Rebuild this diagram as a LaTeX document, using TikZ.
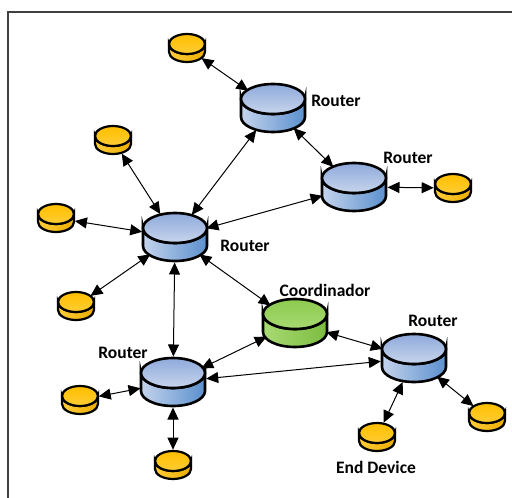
\documentclass[tikz,border=0pt]{standalone}
\usepackage{fontspec}
\setmainfont{Carlito}
\usetikzlibrary{arrows.meta,shapes.geometric}

% router (blue)
\definecolor{rtTopA}{HTML}{8EAADB}
\definecolor{rtTopB}{HTML}{C8D5EC}
\definecolor{rtSideA}{HTML}{C4D3EC}
\definecolor{rtSideB}{HTML}{5B90CE}
% coordinator (green)
\definecolor{coTopA}{HTML}{8CCB4E}
\definecolor{coTopB}{HTML}{A8DA72}
\definecolor{coSideA}{HTML}{A9DB74}
\definecolor{coSideB}{HTML}{7CBC40}
% end device (yellow)
\definecolor{edTopA}{HTML}{FFBF00}
\definecolor{edTopB}{HTML}{FFCC33}
\definecolor{edSideA}{HTML}{FFCD3A}
\definecolor{edSideB}{HTML}{EDAD00}

\tikzset{
  hub/.style={ellipse, inner sep=0pt, draw=none},
  link/.style={{Triangle[length=12pt,width=11pt]}-{Triangle[length=12pt,width=11pt]}, line width=1pt},
  lbl/.style={font=\bfseries\fontsize{17.5}{20}\selectfont, inner sep=0pt},
}

% #1 name, #2 cx, #3 cy (top face centre), #4 rx, #5 ry, #6 depth, #7 colour prefix, #8 line width
\newcommand\drum[8]{%
  \begin{scope}[shift={(#2,#3)}]
    \path[draw, line width=#8pt, left color=#7SideA, right color=#7SideB]
      (-#4,0) -- (-#4,#6)
      arc[start angle=180, end angle=360, x radius=#4pt, y radius=#5pt]
      -- (#4,0)
      arc[start angle=0, end angle=-180, x radius=#4pt, y radius=#5pt] -- cycle;
    \path[draw, line width=#8pt, top color=#7TopA, bottom color=#7TopB]
      (0,0) ellipse[x radius=#4pt, y radius=#5pt];
    \node[hub, minimum width={2*#4pt+#8pt}, minimum height={2*#5pt+#6pt+#8pt}]
      (#1) at (0,{#6/2}) {};
  \end{scope}}
\newcommand\routerdev[3]{\drum{#1}{#2}{#3}{32}{15}{18}{rt}{2.6}}
\newcommand\coorddev[3]{\drum{#1}{#2}{#3}{32}{15}{18}{co}{2.6}}
\newcommand\leafdev[3]{\drum{#1}{#2}{#3}{18}{10}{8}{ed}{2.2}}

\begin{document}
\begin{tikzpicture}[x=1pt,y=-1pt]
  \useasboundingbox (0,0) rectangle (512,498);
  \fill[white] (0,0) rectangle (512,498);
  % frame
  \draw[line width=2pt, black!75] (8,500) -- (8,12) -- (514,12);

  % routers and coordinator
  \routerdev{r1}{273}{99}
  \routerdev{r2}{354}{178}
  \routerdev{r3}{175}{228}
  \coorddev{co}{295}{314}
  \routerdev{r4}{173}{373}
  \routerdev{r5}{414}{349}

  % end devices
  \leafdev{e1}{187}{44}
  \leafdev{e2}{113}{136}
  \leafdev{e3}{453}{184}
  \leafdev{e4}{56}{214}
  \leafdev{e5}{76}{302}
  \leafdev{e6}{80}{396}
  \leafdev{e7}{173}{461}
  \leafdev{e8}{377}{433}
  \leafdev{e9}{487}{413}

  % links
  \draw[link] (e1) -- (r1);
  \draw[link] (r1) -- (r2);
  \draw[link] (r1) -- (r3);
  \draw[link] (r2) -- (e3);
  \draw[link] (r2) -- (r3);
  \draw[link] (e2) -- (r3);
  \draw[link] (e4) -- (r3);
  \draw[link] (e5) -- (r3);
  \draw[link] (r3) -- (r4);
  \draw[link] (r3) -- (co);
  \draw[link] (co) -- (r4);
  \draw[link] (co) -- (r5);
  \draw[link] (r4) -- (r5);
  \draw[link] (e6) -- (r4);
  \draw[link] (r4) -- (e7);
  \draw[link] (r5) -- (e8);
  \draw[link] (r5) -- (e9);

  % labels
  \node[lbl] (l1) at (336,101) {Router};
  \node[lbl] (l2) at (408,158) {Router};
  \node[lbl] (l3) at (245,246) {Router};
  \node[lbl] (lc) at (325,290) {Coordinador};
  \node[lbl] (l4) at (123,353) {Router};
  \node[lbl] (l5) at (433,321) {Router};
  \node[lbl] (le) at (376,467) {End Device};
\end{tikzpicture}
\end{document}
